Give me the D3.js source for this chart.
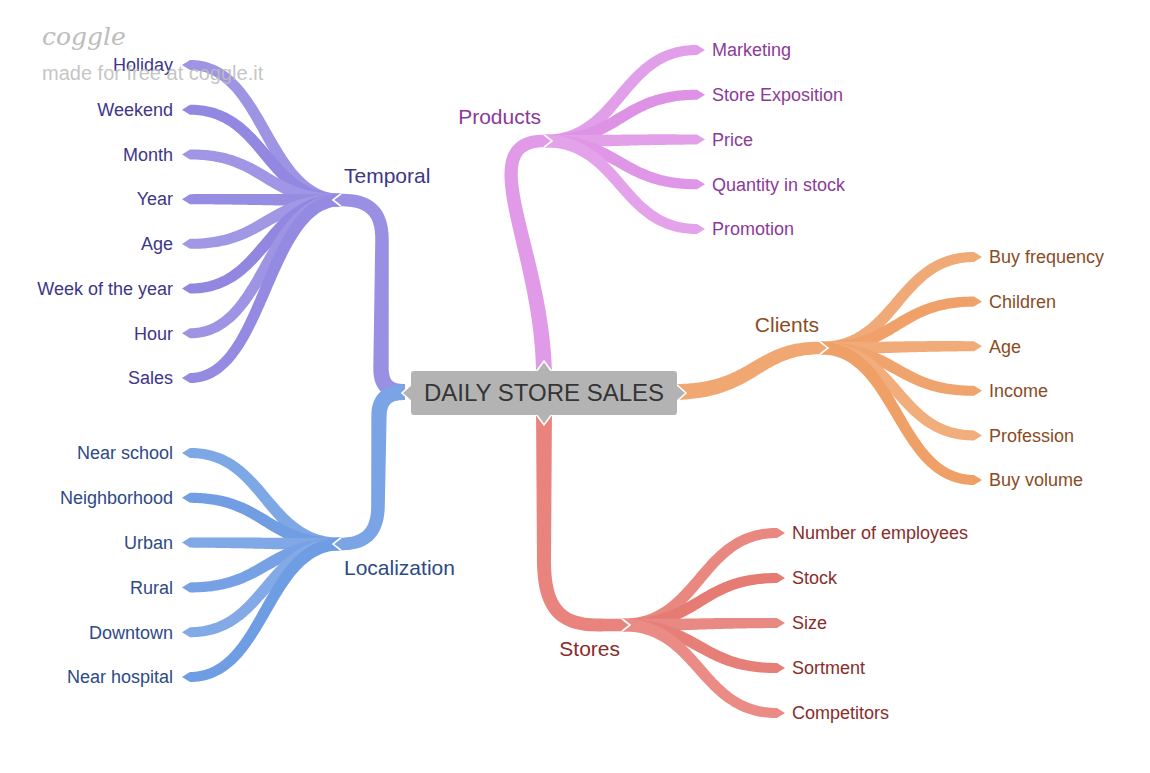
<!DOCTYPE html>
<html><head><meta charset="utf-8">
<script src="https://cdn.jsdelivr.net/npm/d3@7"></script>
<style>body{margin:0;background:#fff;} svg{display:block;font-family:"Liberation Sans",Arial,sans-serif;}</style>
</head><body><svg id="c" width="1150" height="773"></svg>
<script>
// ---------- DATA ----------
const rootLabel = "DAILY STORE SALES";
const branchNames = ["Temporal", "Localization", "Products", "Clients", "Stores"];
const temporalLeaves = ["Holiday", "Weekend", "Month", "Year", "Age", "Week of the year", "Hour", "Sales"];
const localizationLeaves = ["Near school", "Neighborhood", "Urban", "Rural", "Downtown", "Near hospital"];
const productsLeaves = ["Marketing", "Store Exposition", "Price", "Quantity in stock", "Promotion"];
const clientsLeaves = ["Buy frequency", "Children", "Age", "Income", "Profession", "Buy volume"];
const storesLeaves = ["Number of employees", "Stock", "Size", "Sortment", "Competitors"];
const watermarkLogo = "coggle";
const watermarkText = "made for free at coggle.it";

// ---------- LAYOUT / STYLE (code) ----------
const svg = d3.select("#c");
const TIP = 8;
const layout = {
  Temporal:     {leaves: temporalLeaves,     side: -1, P: [333, 200], tipX: 182, yr: [65, 378],  col: "#9a90e3", txt: "#3e3688", lab: {x: 344, y: 176, anchor: "start"},
                 main: "M405,392 C389,392 381,386 381,368 L382,240 C382,212 370,200 341,200"},
  Localization: {leaves: localizationLeaves, side: -1, P: [333, 544], tipX: 182, yr: [453, 677], col: "#7aa4e5", txt: "#2d4a85", lab: {x: 344, y: 568, anchor: "start"},
                 main: "M405,392 C389,392 379,398 379,416 L378,505 C378,532 366,544 341,544"},
  Products:     {leaves: productsLeaves,     side: 1,  P: [552, 141], tipX: 705, yr: [50, 229],  col: "#e09ae8", txt: "#8c3a98", lab: {x: 541, y: 117, anchor: "end"},
                 main: "M544,378 C544,251 470,141 544,141"},
  Clients:      {leaves: clientsLeaves,      side: 1,  P: [828, 348], tipX: 982, yr: [257, 480], col: "#f0a772", txt: "#8b4c24", lab: {x: 819, y: 325, anchor: "end"},
                 main: "M672,392 C755,392 755,348 820,348"},
  Stores:       {leaves: storesLeaves,       side: 1,  P: [630, 625], tipX: 785, yr: [533, 713], col: "#e8837d", txt: "#8b2c2a", lab: {x: 620, y: 649, anchor: "end"},
                 main: "M544,405 L544,560 C544,608 560,625 598,625 L622,625"}
};
const shade = [0.01, -0.02, 0.015, -0.01, 0.02, -0.025, 0.01, -0.015];

const tmp = svg.append("path").attr("fill", "none").attr("stroke", "none");
function ribbon(d, w0, w1, tip) {
  tmp.attr("d", d);
  const node = tmp.node();
  const L = node.getTotalLength();
  const N = 80, left = [], right = [];
  let last = null;
  for (let i = 0; i <= N; i++) {
    const s = L * i / N;
    const p = node.getPointAtLength(s);
    const a = node.getPointAtLength(Math.max(0, s - 0.5));
    const b = node.getPointAtLength(Math.min(L, s + 0.5));
    let dx = b.x - a.x, dy = b.y - a.y;
    const n = Math.hypot(dx, dy) || 1; dx /= n; dy /= n;
    const w = (w0 + (w1 - w0) * i / N) / 2;
    left.push([p.x - dy * w, p.y + dx * w]);
    right.push([p.x + dy * w, p.y - dx * w]);
    last = {p, dx, dy};
  }
  const tipPt = [last.p.x + last.dx * tip, last.p.y + last.dy * tip];
  const pts = left.concat([tipPt], right.reverse());
  return {d: d3.line()(pts) + "Z", chevron: [left[left.length - 1], tipPt, right[0]]};
}

const gLeaves = svg.append("g"), gMain = svg.append("g"), gBox = svg.append("g"), gText = svg.append("g");

branchNames.forEach(name => {
  const b = layout[name];
  const y = d3.scalePoint().domain(b.leaves).range(b.yr);
  const sx = b.P[0] - b.side * TIP, sy = b.P[1];
  b.leaves.forEach((leaf, i) => {
    const ex = b.tipX - b.side * TIP, ey = y(leaf);
    const m = (sx + ex) / 2;
    const path = d3.path();
    path.moveTo(sx, sy);
    path.bezierCurveTo(m, sy, m, ey, ex, ey);
    const r = ribbon(path.toString(), 12.5, 10, TIP);
    const c = d3.hsl(b.col); c.l = Math.max(0, Math.min(1, c.l + shade[i % shade.length]));
    gLeaves.append("path").attr("d", r.d).attr("fill", c.formatHex());
    gText.append("text")
      .attr("x", b.side < 0 ? b.tipX - 9 : b.tipX + 7)
      .attr("y", ey).attr("dy", "0.35em")
      .attr("text-anchor", b.side < 0 ? "end" : "start")
      .attr("font-size", 18).attr("fill", b.txt).text(leaf);
  });
  const r = ribbon(b.main, 16, 12.5, TIP);
  gMain.append("path").attr("d", r.d).attr("fill", b.col);
  gMain.append("path").attr("d", d3.line()(r.chevron)).attr("fill", "none")
    .attr("stroke", "#fff").attr("stroke-width", 1.6);
  gText.append("text").attr("x", b.lab.x).attr("y", b.lab.y).attr("dy", "0.35em")
    .attr("text-anchor", b.lab.anchor).attr("font-size", 21).attr("fill", b.txt).text(name);
});
tmp.remove();

// central node
const box = {x: 411, y: 371, w: 266, h: 44};
const cx = box.x + box.w / 2, cy = box.y + box.h / 2;
const notches = [
  [[cx - 8, box.y + 1], [cx, box.y - 10], [cx + 8, box.y + 1]],
  [[cx - 8, box.y + box.h - 1], [cx, box.y + box.h + 10], [cx + 8, box.y + box.h - 1]],
  [[box.x + 1, cy - 9], [box.x - 9, cy], [box.x + 1, cy + 9]],
  [[box.x + box.w - 1, cy - 9], [box.x + box.w + 9, cy], [box.x + box.w - 1, cy + 9]]
];
notches.forEach(n => {
  gBox.append("path").attr("d", d3.line()(n) + "Z").attr("fill", "#b3b3b3");
  gBox.append("path").attr("d", d3.line()(n)).attr("fill", "none").attr("stroke", "#fff").attr("stroke-width", 1.6);
});
gBox.append("rect").attr("x", box.x).attr("y", box.y).attr("width", box.w).attr("height", box.h)
  .attr("rx", 3).attr("fill", "#b3b3b3");
gBox.append("text").attr("x", cx).attr("y", cy).attr("dy", "0.35em").attr("text-anchor", "middle")
  .attr("font-size", 24).attr("fill", "#353535").text(rootLabel);

// watermark
svg.append("text").attr("x", 42).attr("y", 45).attr("font-size", 25).attr("font-style", "italic")
  .attr("font-family", "'DejaVu Serif', serif").attr("fill", "#bdbdbd").text(watermarkLogo);
svg.append("text").attr("x", 42).attr("y", 80).attr("font-size", 20)
  .attr("fill", "#bdbdbd").attr("fill-opacity", 0.9).text(watermarkText);
</script>
</body></html>
